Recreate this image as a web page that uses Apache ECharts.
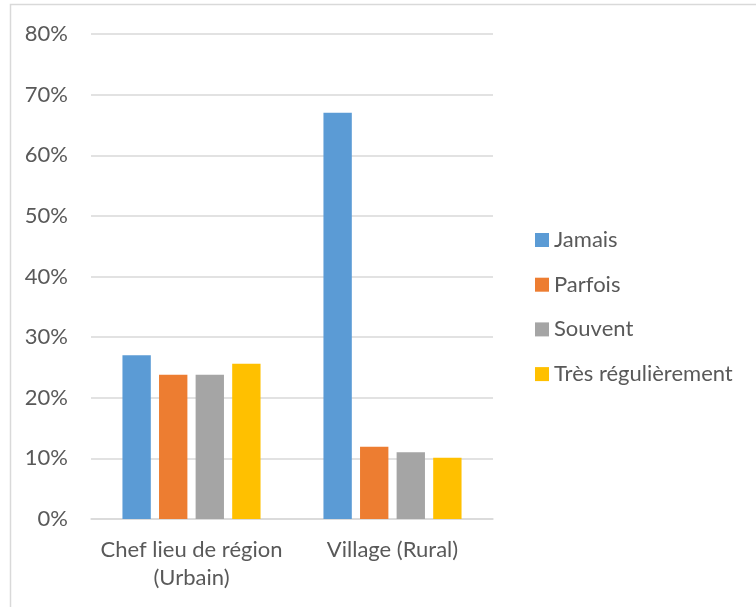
<!DOCTYPE html>
<html>
<head>
<meta charset="utf-8">
<script src="https://cdn.jsdelivr.net/npm/echarts@6/dist/echarts.min.js"></script>
<style>
html,body{margin:0;padding:0;background:#fff;}
#c{width:756px;height:607px;}
</style>
</head>
<body>
<div id="c"></div>
<script>
const categories = ['Chef lieu de région\n(Urbain)', 'Village (Rural)'];
const seriesNames = ['Jamais', 'Parfois', 'Souvent', 'Très régulièrement'];
const jamais = [27.0, 67.0];
const parfois = [23.8, 11.9];
const souvent = [23.8, 11.0];
const tresRegulierement = [25.6, 10.1];
const yTicks = { min: 0, max: 80, interval: 10 };

const colors = ['#5B9BD5', '#ED7D31', '#A5A5A5', '#FFC000'];
const values = [jamais, parfois, souvent, tresRegulierement];
const FONT = 'Lato';
const TXT = '#595959';

const chart = echarts.init(document.getElementById('c'), null, {renderer: 'canvas'});
chart.setOption({
  animation: false,
  backgroundColor: '#fff',
  graphic: [{
    type: 'rect', silent: true, z: -10,
    shape: {x: 10.5, y: 4.5, width: 800, height: 700},
    style: {fill: 'none', stroke: '#d9d9d9', lineWidth: 1.5}
  }],
  grid: {left: 91, right: 263, top: 34, bottom: 88, containLabel: false},
  legend: {
    orient: 'vertical', left: 535, top: 229,
    padding: 0,
    itemWidth: 14, itemHeight: 14, itemGap: 22.7,
    icon: 'rect',
    data: seriesNames,
    textStyle: {fontFamily: FONT, fontSize: 22, color: TXT, padding: [0, 0, 0, 0]},
    itemStyle: {borderWidth: 0}
  },
  xAxis: {
    type: 'category',
    data: categories,
    axisLine: {show: true, lineStyle: {color: '#d9d9d9', width: 1.5}},
    axisTick: {show: false},
    axisLabel: {fontFamily: FONT, fontSize: 22, color: TXT, lineHeight: 28, margin: 17, interval: 0}
  },
  yAxis: {
    type: 'value',
    min: yTicks.min, max: yTicks.max, interval: yTicks.interval,
    axisLine: {show: false},
    axisTick: {show: false},
    splitLine: {lineStyle: {color: '#d9d9d9', width: 1.5}},
    axisLabel: {fontFamily: FONT, fontSize: 22, color: TXT, margin: 23, formatter: '{value}%'}
  },
  series: seriesNames.map((n, i) => ({
    name: n,
    type: 'bar',
    data: values[i],
    barGap: '29%',
    barCategoryGap: '31.3%',
    itemStyle: {color: colors[i]}
  }))
});
</script>
</body>
</html>
